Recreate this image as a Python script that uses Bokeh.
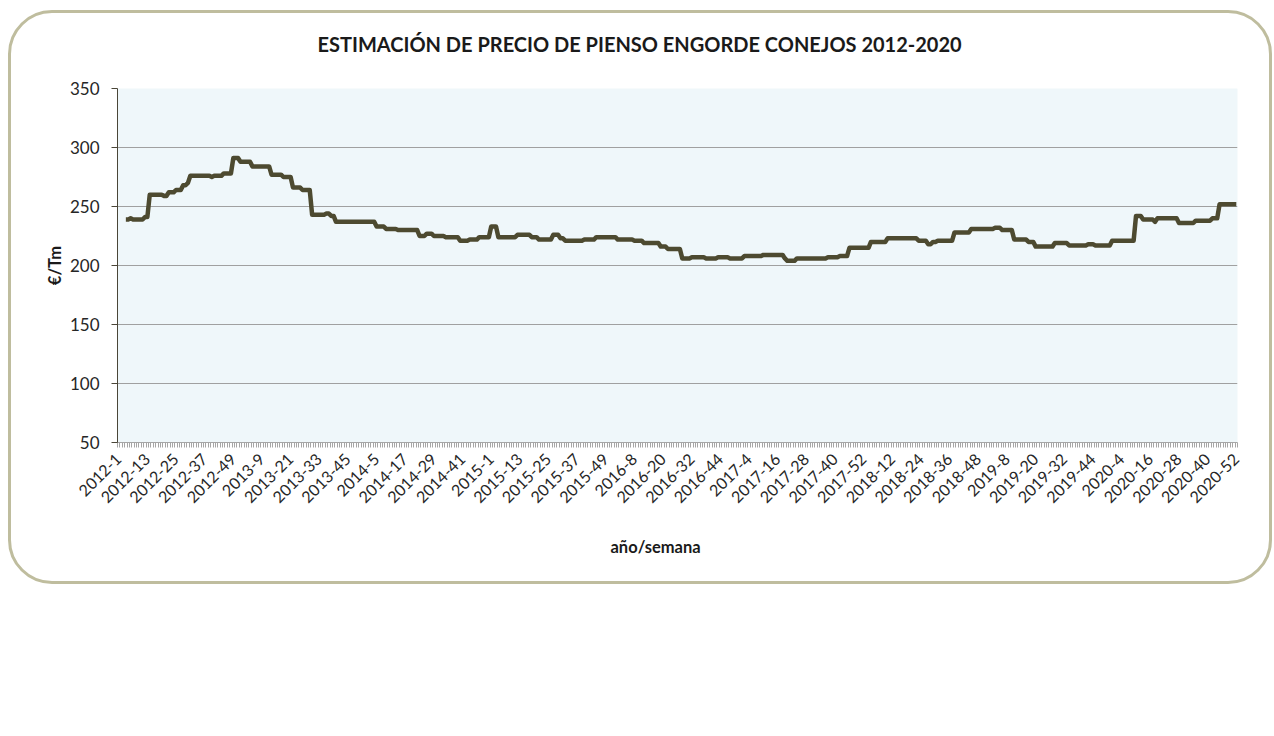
import math
from bokeh.plotting import figure
from bokeh.models import FixedTicker, Range1d, LinearAxis, Title
from bokeh.embed import file_html
from bokeh.resources import INLINE

# ---------------- data ----------------
years = [2012, 2013, 2014, 2015, 2016, 2017, 2018, 2019, 2020]
weeks_in_year = [52, 52, 52, 53, 52, 52, 52, 52, 52]

# price runs: week index where a price level starts, and the price (EUR/Tm)
run_start = [3, 5, 6, 11, 13, 19, 21, 24, 27, 29, 30, 39, 40, 44, 48, 51, 56, 64, 69, 73,
             77, 81, 87, 89, 91, 108, 112, 117, 126, 129, 132, 137, 143, 147, 151, 156, 159,
             167, 173, 176, 182, 185, 187, 195, 200, 209, 216, 220, 227, 230, 236, 240, 246,
             251, 256, 262, 270, 279, 280, 284, 297, 302, 306, 315, 322, 335, 339, 341, 343,
             350, 357, 367, 370, 375, 381, 384, 392, 398, 406, 409, 416, 426, 429, 434, 435,
             444, 451, 458, 461]
run_price = [239, 240, 239, 241, 260, 259, 262, 264, 268, 270, 276, 275, 276, 278, 291, 288,
             284, 277, 275, 266, 264, 243, 244, 242, 237, 233, 231, 230, 225, 227, 225, 224,
             221, 222, 224, 233, 224, 226, 224, 222, 226, 223, 221, 222, 224, 222, 221, 219,
             216, 214, 206, 207, 206, 207, 206, 208, 209, 206, 204, 206, 207, 208, 215, 220,
             223, 221, 218, 220, 221, 228, 231, 232, 230, 222, 220, 216, 219, 217, 218, 217,
             221, 242, 239, 237, 240, 236, 238, 240, 252]

y_ticks = [50, 100, 150, 200, 250, 300, 350]

# ---------------- build series ----------------
week_labels = [f"{y}-{w}" for y, n in zip(years, weeks_in_year) for w in range(1, n + 1)]
n_weeks = len(week_labels)
x_idx = list(range(n_weeks))
prices = [float("nan")] * n_weeks
ends = run_start[1:] + [n_weeks]
for s, e, v in zip(run_start, ends, run_price):
    for i in range(s, e):
        prices[i] = v

# ---------------- figure ----------------
FONT = "Lato"
p = figure(width=1264, height=574, output_backend="svg", toolbar_location=None,
           x_range=Range1d(-0.5, n_weeks - 0.5), y_range=Range1d(50, 350),
           min_border_left=106, min_border_right=38, min_border_top=75, min_border_bottom=145,
           title="ESTIMACIÓN DE PRECIO DE PIENSO ENGORDE CONEJOS 2012-2020")
p.styles = {"border": "3px solid #BFBD9E", "border-radius": "44px",
            "margin-left": "8px", "margin-top": "10px"}
p.border_fill_alpha = 0
p.background_fill_color = "#EFF7FA"
p.outline_line_color = None

p.title.align = "left"
p.title.offset = 200
p.title.text_font = FONT
p.title.text_font_style = "bold"
p.title.text_font_size = "20px"
p.title.text_color = "#1A1A1A"

p.line(x_idx, prices, line_color="#4D4A30", line_width=4.5, line_join="round")

# y axis
ya = p.left[0]
ya.ticker = FixedTicker(ticks=y_ticks)
ya.axis_line_color = "#4A4638"
ya.major_tick_line_color = "#4A4638"
ya.major_tick_out = 6
ya.major_tick_in = 0
ya.minor_tick_line_color = None
ya.major_label_text_font = FONT
ya.major_label_text_font_size = "17px"
ya.major_label_text_color = "#262626"
ya.major_label_standoff = 12
ya.axis_label = "€/Tm"
ya.axis_label_text_font = FONT
ya.axis_label_text_font_style = "bold"
ya.axis_label_text_font_size = "16.5px"
ya.axis_label_text_color = "#1A1A1A"
ya.axis_label_standoff = 2

# x axis
xa = p.below[0]
major = list(range(0, n_weeks, 12))
xa.ticker = FixedTicker(ticks=major, minor_ticks=[i + 0.5 for i in range(-1, n_weeks)])
xa.major_label_overrides = {i: week_labels[i] for i in major}
xa.major_label_orientation = math.pi / 4
xa.axis_line_color = "#A6A6A6"
xa.major_tick_line_color = None
xa.minor_tick_line_color = "#A6A6A6"
xa.minor_tick_out = 5
xa.minor_tick_in = 0
xa.major_label_text_font = FONT
xa.major_label_text_font_size = "16px"
xa.major_label_text_color = "#262626"
xa.major_label_standoff = 8


def spacer(px):
    # a blank axis (white tick on white page, empty label): it only takes up room
    edge = n_weeks - 0.6
    return LinearAxis(ticker=FixedTicker(ticks=[edge]), major_label_overrides={edge: ""},
                      axis_line_color=None, major_tick_line_color="white",
                      minor_tick_line_color=None, major_tick_out=px, major_tick_in=0,
                      minor_tick_out=0, major_label_standoff=0,
                      major_label_text_font_size="1px")


# x axis title, placed under the tick labels
xtitle = Title(text="año/semana", align="left", offset=493, text_font=FONT,
               text_font_style="bold", text_font_size="16.5px", text_color="#1A1A1A")
p.below = [xa, spacer(19), xtitle]

# empty room between title and plot area
p.above = [spacer(28)] + list(p.above)

p.xgrid.grid_line_color = None
p.ygrid.grid_line_color = "#A0A0A0"
p.ygrid.grid_line_width = 1

open("out.html", "w").write(file_html(p, INLINE))
